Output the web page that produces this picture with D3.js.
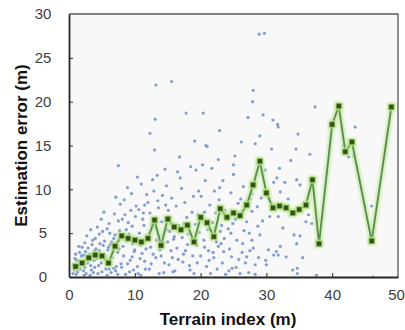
<!DOCTYPE html>
<html>
<head>
<meta charset="utf-8">
<script src="https://cdn.jsdelivr.net/npm/d3@7"></script>
<style>
body { margin: 0; background: #fff; }
svg { display: block; }
</style>
</head>
<body>
<div id="grafico"></div>
<script>
// mean error per terrain index bin (green line)
const linhaX = [1,2,3,4,5,6,7,8,9,10,11,12,13,14,15,16,17,18,19,20,21,22,23,24,25,26,27,28,29,30,31,32,33,34,35,36,37,38,40,41,42,43,46,49];
const linhaY = [1.2,1.6,2.2,2.5,2.4,1.6,3.5,4.7,4.4,4.2,4.0,4.4,6.5,3.6,6.6,5.7,5.4,5.9,4.0,6.8,6.2,4.6,7.8,6.8,7.3,7.0,8.2,10.5,13.2,9.6,7.9,8.1,7.9,7.3,7.7,8.2,11.1,3.8,17.4,19.5,14.3,15.4,4.1,19.4];

// individual samples [terrain index, error] (blue dots)
const pontos = [
  [0.7,1.4],[1.3,0.6],[0.9,2.1],[1.6,2.8],[2.4,1.1],[1.1,0.3],[2.9,3.3],[3.4,0.8],[2.2,2.5],[3.8,1.9],[1.8,1.7],[2.6,0.4],[3.1,2.6],[3.6,4.2],[2.0,3.4],[1.4,1.2],[3.9,3.0],[2.8,1.6],[0.8,0.8],[3.3,1.3],[2.3,0.2],[1.9,2.4],[3.7,0.5],[2.7,4.7],[1.5,3.5],[3.0,2.0],[2.5,2.9],[1.2,1.9],[3.5,3.7],[0.6,0.4],[2.1,1.4],[3.2,0.2],[1.7,0.9],[2.4,3.9],[3.9,1.1],[2.9,2.3],[1.0,2.6],[3.6,2.4],[2.2,0.7],[3.3,5.4],
  [4.2,2.1],[5.6,0.9],[4.7,3.8],[6.3,1.7],[5.1,5.2],[7.4,2.8],[4.4,0.4],[6.8,4.4],[5.9,3.1],[7.1,0.7],[4.9,1.6],[6.1,6.1],[5.3,2.6],[7.7,5.3],[4.6,4.9],[6.6,2.2],[5.8,0.2],[7.3,3.6],[4.1,3.2],[6.9,7.2],[5.4,4.1],[7.9,1.5],[4.8,2.7],[6.4,0.5],[5.2,3.6],[7.5,6.4],[4.3,5.7],[6.0,3.4],[5.7,1.9],[7.0,4.8],[4.5,1.3],[6.7,2.9],[5.0,0.6],[7.6,3.2],[6.2,5.0],[4.9,6.6],[7.2,1.2],[5.5,2.4],[6.5,4.0],[7.8,8.3],[6.1,0.9],[5.3,7.4],[7.5,12.7],[4.6,3.0],[6.8,1.0],[5.8,5.5],[7.1,9.1],[4.0,4.4],[6.3,3.7],[7.4,0.3],
  [8.3,2.4],[9.6,5.8],[10.4,1.2],[11.3,7.3],[8.8,4.1],[9.2,0.6],[10.9,3.6],[11.8,9.4],[8.1,6.6],[9.9,2.9],[10.2,8.1],[11.5,1.8],[8.6,0.3],[9.4,7.6],[10.7,5.0],[11.1,2.7],[8.4,8.8],[9.7,3.8],[10.5,0.4],[11.9,4.6],[8.9,1.5],[9.1,4.9],[10.1,6.9],[11.6,0.9],[8.2,3.5],[9.5,9.5],[10.8,2.1],[11.4,5.9],[8.7,5.4],[9.3,1.9],[10.3,4.3],[11.0,10.6],[8.5,7.1],[9.8,0.8],[10.6,7.7],[11.7,3.2],[8.0,1.1],[9.0,6.2],[10.0,3.1],[11.2,6.6],[8.9,10.2],[10.4,11.4],[11.5,8.2],[9.6,2.3],[10.9,0.2],[8.3,4.6],
  [12.4,3.4],[13.6,7.9],[14.5,1.6],[15.3,5.2],[12.9,9.8],[13.2,2.2],[14.1,6.3],[15.8,0.6],[12.2,0.9],[13.9,4.7],[14.8,10.4],[15.5,3.0],[12.6,6.0],[13.4,11.6],[14.3,3.9],[15.1,7.6],[12.1,4.9],[13.7,0.4],[14.7,8.2],[15.9,4.3],[12.8,2.6],[13.1,5.6],[14.4,0.5],[15.6,9.0],[12.3,7.3],[13.8,3.1],[14.9,5.4],[15.2,1.4],[12.7,11.1],[14.0,2.4],[15.4,6.8],[13.5,8.7],[12.5,1.5],[14.6,12.3],[15.7,2.2],[13.0,6.7],[12.3,16.4],[13.0,14.5],[13.1,18.0],[13.2,21.9],[15.6,22.3],[14.2,9.3],[15.0,4.0],[12.0,8.5],[13.3,4.2],
  [16.4,3.3],[17.6,8.5],[18.3,1.3],[19.2,6.0],[16.9,11.3],[17.2,4.5],[18.8,2.4],[19.7,9.8],[16.1,0.7],[17.9,6.8],[18.5,12.6],[19.4,3.6],[16.7,5.9],[17.3,1.7],[18.1,4.9],[19.0,0.4],[16.3,8.1],[17.7,3.0],[18.7,7.4],[19.8,5.1],[16.6,2.0],[17.1,10.1],[18.2,5.8],[19.5,1.6],[16.0,4.6],[17.5,6.1],[18.9,9.2],[19.3,12.2],[16.8,13.7],[18.4,0.8],[17.8,18.7],[19.1,15.5],[16.5,12.0],[18.0,3.7],[19.6,7.1],[17.4,2.6],
  [20.0,2.4],[20.1,9.2],[20.3,12.8],[20.4,18.7],[20.5,4.2],[20.6,7.4],[20.7,11.0],[20.8,15.0],[20.9,1.2],[21.0,14.9],[21.1,5.4],[21.2,3.0],[21.4,8.2],[21.5,0.4],[21.7,12.4],[21.8,6.2],[22.0,2.2],[22.1,9.8],[22.3,7.3],[22.4,4.0],[22.5,0.9],[22.7,13.4],[22.7,3.5],[22.8,8.8],[22.9,16.7],[22.9,10.2],[23.0,5.2],[23.2,5.9],[23.3,1.6],[23.4,11.0],[23.5,2.9],[23.7,7.6],[23.8,0.3],[24.0,6.7],[24.2,5.5],[24.4,3.2],[24.6,9.6],[24.6,5.0],[24.7,2.3],[24.8,1.0],[25.0,12.8],[25.0,11.7],
  [20.6,3.4],[21.3,1.9],[22.2,5.6],[23.6,4.4],[24.3,0.7],[21.9,2.8],[23.1,3.8],[24.9,6.1],[25.8,2.0],[26.6,5.3],[27.5,3.0],[28.8,2.2],[29.4,6.4],[26.1,8.9],[25.4,1.1],[27.3,0.5],[28.6,8.0],
  [25.2,13.8],[25.3,6.6],[25.5,4.2],[25.7,8.4],[26.0,0.4],[26.2,15.4],[26.3,2.8],[26.4,3.8],[26.5,10.3],[26.7,7.8],[26.8,1.6],[27.0,6.3],[27.0,2.3],[27.2,18.2],[27.4,5.0],[27.6,8.9],[27.8,9.5],[27.8,4.2],[27.8,7.5],[27.9,20.0],[28.0,21.3],[28.0,3.3],[28.3,15.2],[28.3,1.4],[28.3,0.3],[28.5,11.6],[28.7,5.8],[28.9,27.7],[29.0,16.1],[29.0,4.8],[29.2,9.0],[29.5,18.5],[29.7,27.8],[29.8,12.2],[29.9,1.9],[30.0,1.4],
  [30.3,3.1],[30.5,6.9],[30.8,14.6],[31.0,17.9],[31.1,10.8],[31.1,2.5],[31.5,2.9],[31.6,11.3],[31.7,17.4],[31.8,17.1],[31.8,6.9],[31.8,2.5],[32.0,12.4],[32.1,9.7],[32.1,3.5],[32.5,5.6],[32.8,10.8],[33.0,2.3],[33.3,8.9],[33.7,13.3],[34.0,0.8],[34.2,4.8],[34.5,14.6],[34.6,11.1],[34.6,3.8],[34.7,1.0],[34.7,0.4],[34.8,16.3],[35.1,10.5],[35.1,4.7],
  [35.5,2.2],[36.0,6.3],[36.4,7.1],[36.6,14.0],[36.9,10.0],[36.9,6.1],[37.4,19.4],[37.6,0.2],[41.7,15.0],[42.5,13.7],[43.2,13.8],[43.5,17.1],[46.0,8.1],[46.2,0.0]
];

const ticksX = [0,10,20,30,40,50];
const ticksY = [0,5,10,15,20,25,30];

const largura = 405, altura = 330;
const margem = { top: 14, right: 7, bottom: 53, left: 69 };
const w = largura - margem.left - margem.right;
const h = altura - margem.top - margem.bottom;

const svg = d3.select("#grafico").append("svg")
    .attr("width", largura)
    .attr("height", altura);

const defs = svg.append("defs");
defs.append("filter")
    .attr("id", "brilho")
    .attr("x", "-20%").attr("y", "-20%")
    .attr("width", "140%").attr("height", "140%")
  .append("feGaussianBlur")
    .attr("stdDeviation", 1);

const g = svg.append("g")
    .attr("transform", `translate(${margem.left},${margem.top})`);

const x = d3.scaleLinear().domain([0, 50]).range([0, w]);
const y = d3.scaleLinear().domain([0, 30]).range([h, 0]);

g.append("rect")
    .attr("width", w)
    .attr("height", h)
    .style("fill", "#f8f8f8");

g.selectAll(".ponto")
    .data(pontos)
    .enter().append("circle")
    .attr("class", "ponto")
    .attr("cx", d => x(d[0]))
    .attr("cy", d => y(d[1]))
    .attr("r", 1.6)
    .style("fill", "#7393cb")
    .style("opacity", 0.9);

const dadosLinha = linhaX.map((v, i) => [v, linhaY[i]]);
const linha = d3.line().x(d => x(d[0])).y(d => y(d[1]));

// pale green glow under the line
g.append("path")
    .datum(dadosLinha)
    .attr("d", linha)
    .style("fill", "none")
    .style("stroke", "#c8eca2")
    .style("stroke-width", 5.5)
    .style("stroke-linejoin", "round")
    .style("opacity", 0.9)
    .attr("filter", "url(#brilho)");

g.append("path")
    .datum(dadosLinha)
    .attr("d", linha)
    .style("fill", "none")
    .style("stroke", "#5a885a")
    .style("stroke-width", 1.8)
    .style("stroke-linejoin", "round");

const lado = 5;
g.selectAll(".marca-brilho")
    .data(dadosLinha)
    .enter().append("rect")
    .attr("class", "marca-brilho")
    .attr("x", d => x(d[0]) - lado / 2 - 1.5)
    .attr("y", d => y(d[1]) - lado / 2 - 1.5)
    .attr("width", lado + 3)
    .attr("height", lado + 3)
    .style("fill", "#b6e388")
    .attr("filter", "url(#brilho)");

g.selectAll(".marca")
    .data(dadosLinha)
    .enter().append("rect")
    .attr("class", "marca")
    .attr("x", d => x(d[0]) - lado / 2)
    .attr("y", d => y(d[1]) - lado / 2)
    .attr("width", lado)
    .attr("height", lado)
    .style("fill", "#34501a")
    .style("stroke", "#86b552")
    .style("stroke-width", 0.6);

// frame: top and right edges
g.append("path")
    .attr("d", `M0,0H${w}V${h}`)
    .style("fill", "none")
    .style("stroke", "#595959")
    .style("stroke-width", 1.3);

const eixoX = g.append("g")
    .attr("transform", `translate(0,${h})`)
    .call(d3.axisBottom(x).tickValues(ticksX).tickSize(-4).tickPadding(12).tickSizeOuter(0));

const eixoY = g.append("g")
    .call(d3.axisLeft(y).tickValues(ticksY).tickSize(-4).tickPadding(26).tickSizeOuter(0));

[eixoX, eixoY].forEach(e => {
    e.select(".domain").style("stroke", "#262626").style("stroke-width", 1.8);
    e.selectAll(".tick line").style("stroke", "#262626").style("stroke-width", 1);
    e.selectAll(".tick text")
        .style("font-family", "Liberation Sans, Arial, sans-serif")
        .style("font-size", "15px")
        .style("fill", "#404040");
});
eixoY.selectAll(".tick text").attr("text-anchor", "middle");
eixoX.selectAll(".tick").filter(d => d === 0 || d === 50).select("line").remove();
eixoX.selectAll(".tick").filter(d => d === 50).select("text").attr("dx", -2);
eixoY.selectAll(".tick").filter(d => d === 0 || d === 30).select("line").remove();

svg.append("text")
    .attr("x", 228)
    .attr("y", 325)
    .attr("text-anchor", "middle")
    .text("Terrain index (m)")
    .style("font-family", "Liberation Sans, Arial, sans-serif")
    .style("font-weight", "bold")
    .style("font-size", "17px")
    .style("fill", "#111");

svg.append("text")
    .attr("transform", `translate(27,${margem.top + h / 2}) rotate(-90)`)
    .attr("text-anchor", "middle")
    .text("Estimation error (m)")
    .style("font-family", "Liberation Sans, Arial, sans-serif")
    .style("font-weight", "bold")
    .style("font-size", "17px")
    .style("fill", "#111");
</script>
</body>
</html>
